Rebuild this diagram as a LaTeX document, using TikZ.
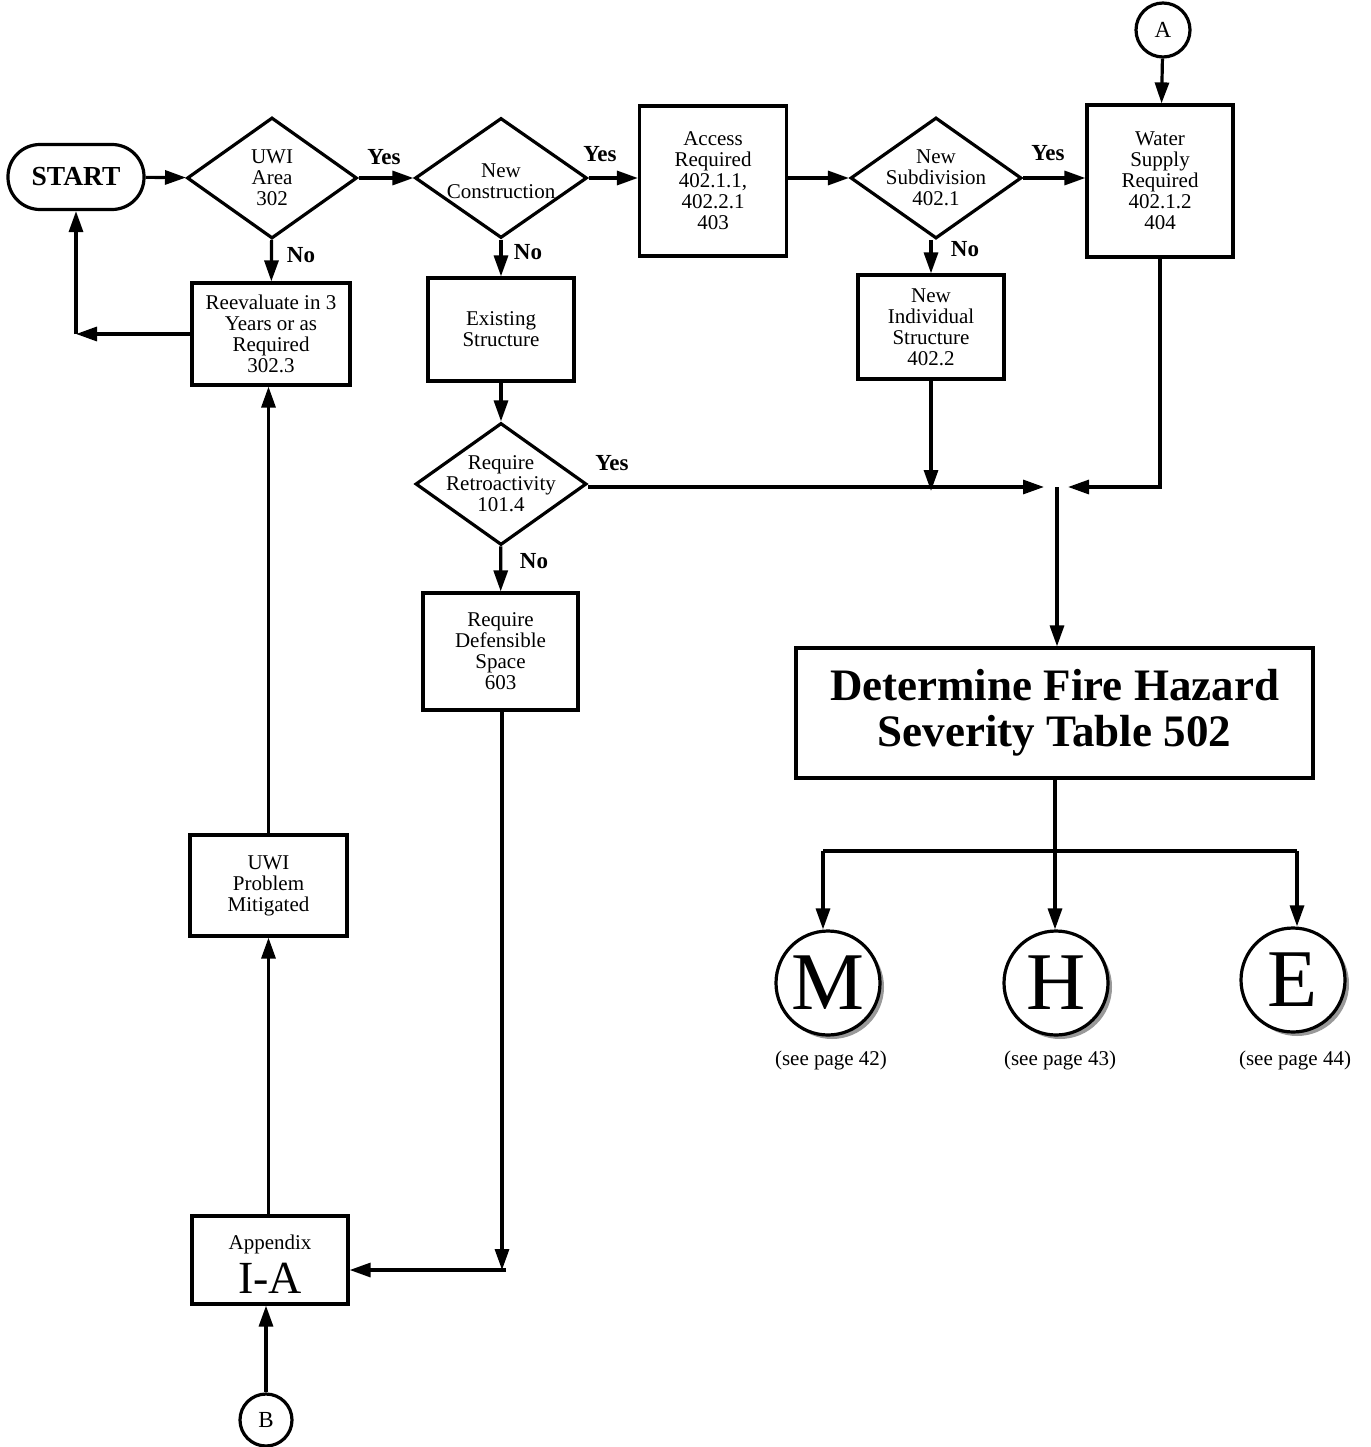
\documentclass[tikz,border=0pt]{standalone}
\usepackage{fontspec}
\setmainfont{Liberation Serif}
\usetikzlibrary{shapes.geometric,arrows.meta}
\tikzset{
  lw/.style={line width=3.2pt},
  box/.style={draw, lw, rectangle, inner sep=0pt, align=center, font=\fontsize{21}{21}\selectfont},
  dia/.style={draw, lw, diamond, inner sep=0pt},
  dtxt/.style={align=center, inner sep=0pt, font=\fontsize{21}{21}\selectfont},
  conn/.style={draw, lw, circle, inner sep=0pt, font=\fontsize{23}{23}\selectfont},
  big/.style={draw, lw, circle, fill=white, inner sep=0pt, minimum size=104pt, font=\fontsize{82}{82}\selectfont},
  shad/.style={circle, fill=black!40, inner sep=0pt, minimum size=104pt},
  yn/.style={font=\fontsize{23}{23}\selectfont\bfseries, inner sep=0pt},
  pg/.style={font=\fontsize{21}{21}\selectfont, inner sep=0pt},
  arr/.style={lw, -{Triangle[length=21pt,width=14pt]}},
  ln/.style={lw}
}
\begin{document}
\begin{tikzpicture}[x=1pt,y=-1pt]
\useasboundingbox (0,0) rectangle (1370,1447);
% nodes
\node[draw, lw, rounded corners=32pt, minimum width=136pt, minimum height=65pt, inner sep=0pt, font=\fontsize{27.5}{27.5}\selectfont\bfseries] (start) at (76,177) {START};
\node[dia, minimum width=170pt, minimum height=121pt, label={[dtxt]center:UWI\\Area\\302}] (uwi) at (272,178) {};
\node[dia, minimum width=172pt, minimum height=120pt, label={[dtxt, yshift=-3pt]center:New\\Construction}] (newc) at (501,178) {};
\node[box, minimum width=147pt, minimum height=150pt] (access) at (713,181) {Access\\Required\\402.1.1,\\402.2.1\\403};
\node[dia, minimum width=171pt, minimum height=121pt, label={[dtxt]center:New\\Subdivision\\402.1}] (newsub) at (936,178) {};
\node[box, minimum width=146pt, minimum height=152pt] (water) at (1160,181) {Water\\Supply\\Required\\402.1.2\\404};
\node[conn, minimum size=54pt] (A) at (1163,30) {A};
\node[box, minimum width=158pt, minimum height=102pt] (reeval) at (271,334) {Reevaluate in 3\\Years or as\\Required\\302.3};
\node[box, minimum width=146pt, minimum height=103pt] (exist) at (501,329.5) {Existing\\Structure};
\node[box, minimum width=146pt, minimum height=104pt] (indiv) at (931,327) {New\\Individual\\Structure\\402.2};
\node[dia, minimum width=171pt, minimum height=122pt, label={[dtxt]center:Require\\Retroactivity\\101.4}] (retro) at (501,484) {};
\node[box, minimum width=155pt, minimum height=117pt] (defens) at (500.5,651.5) {Require\\Defensible\\Space\\603};
\node[box, minimum width=517pt, minimum height=130pt, font=\fontsize{45}{46}\selectfont\bfseries] (det) at (1054.5,713) {Determine Fire Hazard\\Severity Table 502};
\node[box, minimum width=157pt, minimum height=101pt] (mitig) at (268.5,885.5) {UWI\\Problem\\Mitigated};
\node[box, minimum width=156pt, minimum height=88pt] (app) at (270,1260) {};
\node[inner sep=0pt, font=\fontsize{21}{21}\selectfont] (apptxt) at (270,1244) {Appendix};
\node[inner sep=0pt, font=\fontsize{46}{46}\selectfont] (ia) at (270,1278) {I-A};
\node[conn, minimum size=52pt] (B) at (266,1420) {B};
% big circles with shadows
\node[shad] (Ms) at (832,987) {};
\node[big] (M) at (828,983) {M};
\node[shad] (Hs) at (1060,987) {};
\node[big] (H) at (1056,983) {H};
\node[shad] (Es) at (1297,984) {};
\node[big] (E) at (1293,980) {E};
\node[pg] (pM) at (831,1060) {(see page 42)};
\node[pg] (pH) at (1060,1060) {(see page 43)};
\node[pg] (pE) at (1295,1060) {(see page 44)};
% coordinates
\coordinate (c1) at (76,334);
\coordinate (j) at (1057,487);
\coordinate (bl) at (823,851);
\coordinate (bm) at (1055,851);
\coordinate (br) at (1297,851);
\coordinate (dl) at (502,1270);
% connectors
\draw[arr] (start) -- (uwi);
\draw[arr] (uwi) -- (newc);
\draw[arr] (newc) -- (newc -| access.west);
\draw[arr] (access.east |- newsub) -- (newsub);
\draw[arr] (newsub) -- (newsub -| water.west);
\draw[arr] (A) -- (water);
\draw[arr] (uwi) -- (reeval);
\draw[arr] (reeval.west |- c1) -- (c1);
\draw[arr] (c1) -- (start);
\draw[arr] (newc.south) -- (newc.south |- exist.north);
\draw[arr] (newsub.south -| indiv) -- (indiv);
\draw[arr] (exist) -- (retro);
\draw[arr] (retro) -- (defens);
\draw[arr] (retro.east |- j) -- ([xshift=-13pt]j);
\draw[arr] (indiv.south) -- ([yshift=-4pt]indiv.south |- j);
\draw[arr] (water.south) |- ([xshift=11pt]j);
\draw[arr] (j) -- (j |- det.north);
\draw[ln] (det.south -| bm) -- (bm);
\draw[ln] (bl) -- (br);
\draw[arr] (bl) -- (bl |- M.north);
\draw[arr] (bm) -- (bm |- H.north);
\draw[arr] (br) -- (br |- E.north);
\draw[arr] (defens.south -| dl) -- (dl);
\draw[arr] ([xshift=4pt]dl) -- (app.east |- dl);
\draw[arr] (B) -- (B |- app.south);
\draw[arr] (app.north -| mitig) -- (mitig);
\draw[arr] (mitig) -- (mitig |- reeval.south);
% labels
\node[yn] (y1) at (384,157) {Yes};
\node[yn] (n1) at (301,255) {No};
\node[yn] (y2) at (600,154) {Yes};
\node[yn] (n2) at (528,252) {No};
\node[yn] (y3) at (1048,153) {Yes};
\node[yn] (n3) at (965,249) {No};
\node[yn] (y4) at (612,463) {Yes};
\node[yn] (n4) at (534,561) {No};
\end{tikzpicture}
\end{document}
